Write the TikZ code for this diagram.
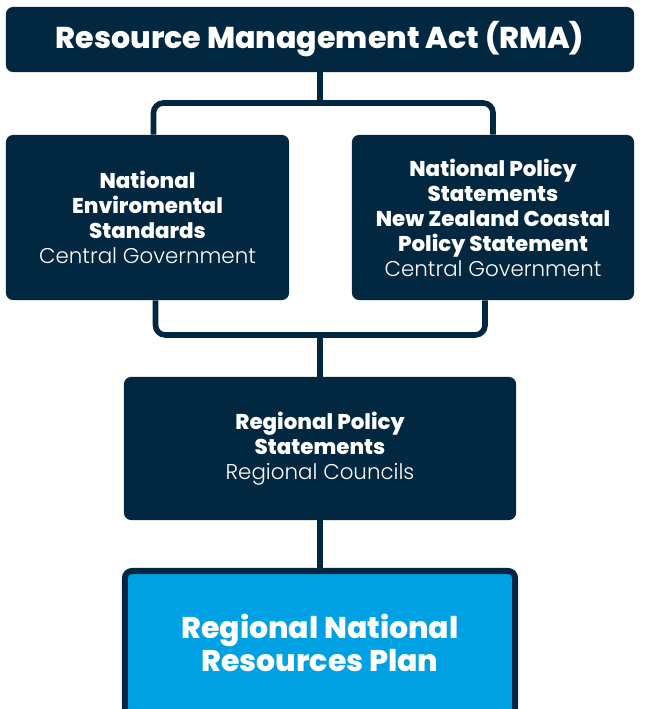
\documentclass[tikz,border=0pt]{standalone}
\usepackage{fontspec}
\setmainfont{Poppins Light}[BoldFont={Poppins ExtraBold}]
\usepackage{xcolor}
\usepackage{tikz}
\usetikzlibrary{positioning,calc}
\definecolor{RMANavy}{RGB}{2,40,65}
\definecolor{RMABlue}{RGB}{0,161,227}

\begin{document}
\begin{tikzpicture}[x=0.025cm, y=-0.025cm]
	\tikzset{
		box/.style={rectangle, rounded corners=5pt, fill=RMANavy, text=white,
			align=center, inner sep=0pt},
		small/.style={font=\fontsize{15.2}{17.8}\selectfont\bfseries},
		link/.style={draw=RMANavy, line width=4pt}
	}
	\clip (0,0) rectangle (646,709);
	
	\node[box, minimum width=15.7cm, minimum height=1.625cm,
		font=\fontsize{21.4}{24}\selectfont\bfseries] (rma) at (320,39.5)
		{Resource Management Act (RMA)};
	\node[box, small, minimum width=7.075cm, minimum height=4.125cm] (nes) at (147.5,217.5)
		{National\\Enviromental\\Standards\\\mdseries Central Government};
	\node[box, small, minimum width=7.05cm, minimum height=4.125cm] (nps) at (493,217.5)
		{National Policy\\Statements\\New Zealand Coastal\\Policy Statement\\\mdseries Central Government};
	\node[box, small, minimum width=9.8cm, minimum height=3.575cm] (rps) at (320,448.5)
		{Regional Policy\\Statements\\\mdseries Regional Councils};
	\node[box, fill=RMABlue, draw=RMANavy, line width=4.3pt,
		minimum width=9.75cm, minimum height=3.6cm,
		font=\fontsize{21.3}{23.5}\selectfont\bfseries] (plan) at (320,643)
		{Regional National\\Resources Plan};
	
	\draw[link] (rma.south) -- (320,103) coordinate (topjoin);
	\draw[link, rounded corners=7pt] ([xshift=0.15cm]nes.north) |- (topjoin) -| (nps.north);
	\draw[link, rounded corners=7pt] ([xshift=0.2cm]nes.south) |- (320,335) coordinate (midjoin)
		-| ([xshift=-0.2cm]nps.south);
	\draw[link] (midjoin) -- (rps.north);
	\draw[link] (rps.south) -- (plan.north);
\end{tikzpicture}
\end{document}
